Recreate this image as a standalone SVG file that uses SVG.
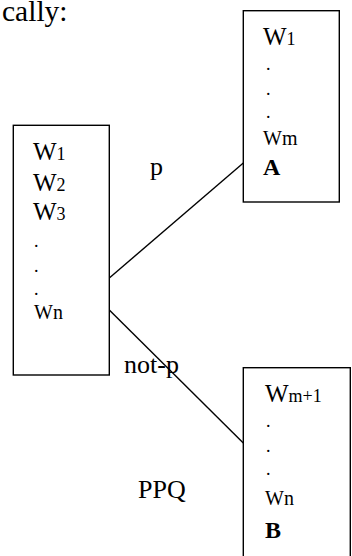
<svg xmlns="http://www.w3.org/2000/svg" width="352" height="556" viewBox="0 0 352 556" font-family="'Liberation Serif', 'Times New Roman', serif">
<style>
text{font-family:'Liberation Serif','Times New Roman',serif;fill:#000}
.big{font-size:25px}
.sm{font-size:18px}
.mid{font-size:20px}
.lbl{font-size:26px}
.b{font-weight:bold;font-size:24px}
.dot{font-size:18px}
.box{fill:#fff;stroke:#000;stroke-width:1.4}
.ln{stroke:#000;stroke-width:1.4;fill:none}
</style>
<rect width="352" height="556" fill="#fff"/>
<text x="2" y="21" font-size="29.5">cally:</text>
<g id="connectors">
<line class="ln" x1="109.3" y1="278" x2="243.3" y2="163"/>
<line class="ln" x1="109.3" y1="310" x2="243.3" y2="443"/>
</g>
<g id="boxLeft">
<rect class="box" x="13.3" y="125.3" width="96" height="249.7"/>
<text x="33" y="160"><tspan class="big">W</tspan><tspan class="sm">1</tspan></text>
<text x="33" y="191"><tspan class="big">W</tspan><tspan class="sm">2</tspan></text>
<text x="33" y="220"><tspan class="big">W</tspan><tspan class="sm">3</tspan></text>
<text class="dot" x="34" y="247">.</text>
<text class="dot" x="34" y="272">.</text>
<text class="dot" x="34" y="295">.</text>
<text class="mid" x="34" y="319">Wn</text>
</g>
<g id="boxA">
<rect class="box" x="243.3" y="10.7" width="96" height="191.3"/>
<text x="263" y="45"><tspan class="big">W</tspan><tspan class="sm">1</tspan></text>
<text class="dot" x="266" y="70">.</text>
<text class="dot" x="266" y="95">.</text>
<text class="dot" x="266" y="118">.</text>
<text class="mid" x="263" y="145">Wm</text>
<text class="b" x="263" y="175">A</text>
</g>
<g id="boxB">
<rect class="box" x="243.3" y="367.7" width="107" height="200"/>
<text x="265" y="402"><tspan class="big">W</tspan><tspan class="sm">m+1</tspan></text>
<text class="dot" x="266" y="427">.</text>
<text class="dot" x="266" y="452">.</text>
<text class="dot" x="266" y="475">.</text>
<text class="mid" x="265" y="505">Wn</text>
<text class="b" x="265" y="538">B</text>
</g>
<g id="labels">
<text class="lbl" x="150" y="175">p</text>
<text class="lbl" x="124" y="373">not-p</text>
<text class="lbl" x="138" y="498">PPQ</text>
</g>
</svg>
